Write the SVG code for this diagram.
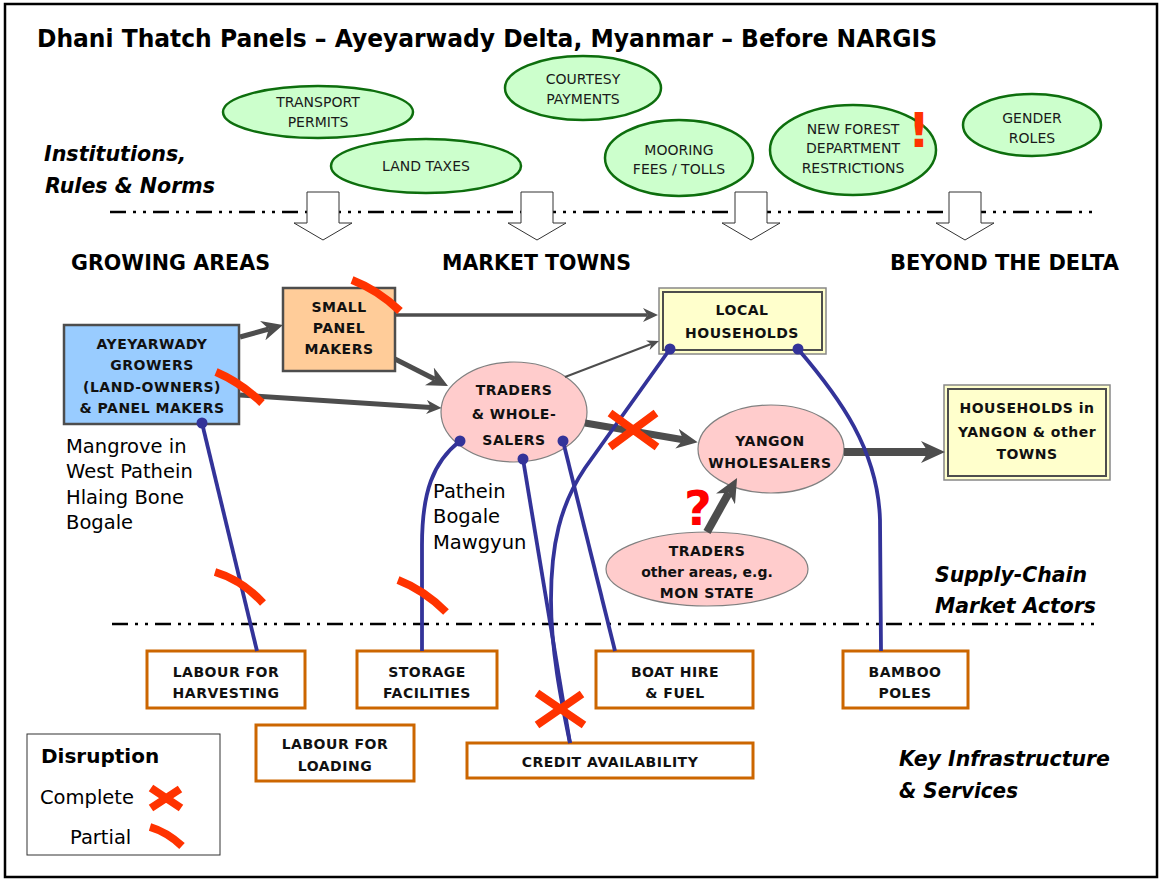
<svg xmlns="http://www.w3.org/2000/svg" width="1163" height="879" viewBox="0 0 1163 879">
<defs>
<style>
.title{font-family:"DejaVu Sans",Verdana,sans-serif;font-weight:bold;font-size:24px;fill:#000}
.hdr{font-family:"DejaVu Sans",Verdana,sans-serif;font-weight:bold;font-size:21px;fill:#000}
.lay{font-family:"DejaVu Sans",Verdana,sans-serif;font-weight:bold;font-style:italic;font-size:21px;fill:#000}
.inst ellipse{fill:#ccffcc;stroke:#0d6e0d;stroke-width:2.5}
.inst text{font-family:"DejaVu Sans",Verdana,sans-serif;font-size:14px;fill:#1a1a1a;text-anchor:middle}
.nt{font-family:"DejaVu Sans",Verdana,sans-serif;font-weight:bold;font-size:14px;letter-spacing:0.5px;fill:#111;text-anchor:middle}
.place{font-family:"DejaVu Sans",Verdana,sans-serif;font-size:19.5px;fill:#000}
.infra rect{fill:#fff;stroke:#cc6600;stroke-width:3}
.gray{stroke:#4d4d4d;fill:none}
.blue{stroke:#333399;stroke-width:3.8;fill:none}
.dot{fill:#333399}
.red{stroke:#ff3300;fill:none;stroke-width:8}
.dash{stroke:#000;stroke-width:2.5;stroke-dasharray:16 7 3 7 3 7}
.blk{fill:#fff;stroke:#333;stroke-width:1}
.yel-o{fill:#ffffcc;stroke:#888;stroke-width:1.5}
.yel-i{fill:none;stroke:#4d4d4d;stroke-width:2}
.pink{fill:#ffcccc;stroke:#808080;stroke-width:1.2}
</style>
<marker id="mA" viewBox="0 0 10 10" refX="3" refY="5" markerWidth="12" markerHeight="10" markerUnits="userSpaceOnUse" orient="auto" preserveAspectRatio="none"><path d="M0,0 L10,5 L0,10 L3,5 z" fill="#4d4d4d"/></marker>
<marker id="mB" viewBox="0 0 10 10" refX="3" refY="5" markerWidth="15" markerHeight="14" markerUnits="userSpaceOnUse" orient="auto" preserveAspectRatio="none"><path d="M0,0 L10,5 L0,10 L3,5 z" fill="#4d4d4d"/></marker>
<marker id="mC" viewBox="0 0 10 10" refX="3" refY="5" markerWidth="21" markerHeight="20" markerUnits="userSpaceOnUse" orient="auto" preserveAspectRatio="none"><path d="M0,0 L10,5 L0,10 L3,5 z" fill="#4d4d4d"/></marker>
<marker id="mD" viewBox="0 0 10 10" refX="3" refY="5" markerWidth="24" markerHeight="22" markerUnits="userSpaceOnUse" orient="auto" preserveAspectRatio="none"><path d="M0,0 L10,5 L0,10 L3,5 z" fill="#4d4d4d"/></marker>
</defs>

<rect x="0" y="0" width="1163" height="879" fill="#fff"/>
<rect x="5" y="4" width="1152" height="873" fill="none" stroke="#000" stroke-width="2.5"/>

<text class="title" x="37" y="47" textLength="900" lengthAdjust="spacingAndGlyphs">Dhani Thatch Panels – Ayeyarwady Delta, Myanmar – Before NARGIS</text>

<g id="layer-labels">
<text class="lay" x="44" y="161" textLength="142" lengthAdjust="spacingAndGlyphs">Institutions,</text>
<text class="lay" x="45" y="193" textLength="170" lengthAdjust="spacingAndGlyphs">Rules &amp; Norms</text>
<text class="lay" x="935" y="582" textLength="152" lengthAdjust="spacingAndGlyphs">Supply-Chain</text>
<text class="lay" x="935" y="613" textLength="161" lengthAdjust="spacingAndGlyphs">Market Actors</text>
<text class="lay" x="899" y="766" textLength="211" lengthAdjust="spacingAndGlyphs">Key Infrastructure</text>
<text class="lay" x="899" y="798" textLength="119" lengthAdjust="spacingAndGlyphs">&amp; Services</text>
<text class="hdr" x="71" y="270" textLength="199" lengthAdjust="spacingAndGlyphs">GROWING AREAS</text>
<text class="hdr" x="442" y="270" textLength="189" lengthAdjust="spacingAndGlyphs">MARKET TOWNS</text>
<text class="hdr" x="890" y="270" textLength="229" lengthAdjust="spacingAndGlyphs">BEYOND THE DELTA</text>
</g>

<g id="dividers">
<line class="dash" x1="110" y1="212" x2="1098" y2="212"/>
<line class="dash" x1="112" y1="624" x2="1098" y2="624"/>
</g>

<g id="influence-arrows">
<path class="blk" d="M307,192 L339,192 L339,223 L352,223 L323,240 L294,223 L307,223 Z"/>
<path class="blk" d="M521,192 L553,192 L553,223 L566,223 L537,240 L508,223 L521,223 Z"/>
<path class="blk" d="M735,192 L767,192 L767,223 L780,223 L751,240 L722,223 L735,223 Z"/>
<path class="blk" d="M949,192 L981,192 L981,223 L994,223 L965,240 L936,223 L949,223 Z"/>
</g>

<g id="transport-permits" class="inst"><ellipse cx="318" cy="112" rx="95" ry="26"/><text x="318" y="107">TRANSPORT</text><text x="318" y="127">PERMITS</text></g>
<g id="land-taxes" class="inst"><ellipse cx="426" cy="166" rx="95" ry="27"/><text x="426" y="171">LAND TAXES</text></g>
<g id="courtesy-payments" class="inst"><ellipse cx="583" cy="88" rx="78" ry="32"/><text x="583" y="84">COURTESY</text><text x="583" y="104">PAYMENTS</text></g>
<g id="mooring-fees" class="inst"><ellipse cx="679" cy="158" rx="74" ry="38"/><text x="679" y="155">MOORING</text><text x="679" y="174">FEES / TOLLS</text></g>
<g id="forest-restrictions" class="inst"><ellipse cx="853" cy="150" rx="83" ry="45"/><text x="853" y="134">NEW FOREST</text><text x="853" y="153">DEPARTMENT</text><text x="853" y="173">RESTRICTIONS</text>
<text x="919" y="147" style="font-family:'DejaVu Sans',sans-serif;font-weight:bold;font-size:48px;fill:#ff3300;text-anchor:middle">!</text></g>
<g id="gender-roles" class="inst"><ellipse cx="1032" cy="125" rx="69" ry="31"/><text x="1032" y="123">GENDER</text><text x="1032" y="143">ROLES</text></g>

<g id="growers">
<rect x="64" y="325" width="175" height="99" fill="#99ccff" stroke="#4d4d4d" stroke-width="2.5"/>
<text class="nt" x="152" y="349">AYEYARWADY</text>
<text class="nt" x="152" y="370">GROWERS</text>
<text class="nt" x="152" y="392">(LAND-OWNERS)</text>
<text class="nt" x="152" y="413">&amp; PANEL MAKERS</text>
</g>
<g id="small-panel-makers">
<rect x="283" y="288" width="112" height="83" fill="#ffcc99" stroke="#4d4d4d" stroke-width="2.5"/>
<text class="nt" x="339" y="312">SMALL</text>
<text class="nt" x="339" y="333">PANEL</text>
<text class="nt" x="339" y="354">MAKERS</text>
</g>
<g id="local-households">
<rect class="yel-o" x="659" y="288" width="167" height="66"/>
<rect class="yel-i" x="663" y="292" width="159" height="58"/>
<text class="nt" x="742" y="315">LOCAL</text>
<text class="nt" x="742" y="338">HOUSEHOLDS</text>
</g>
<g id="households-yangon">
<rect class="yel-o" x="944" y="385" width="166" height="95"/>
<rect class="yel-i" x="948" y="389" width="158" height="87"/>
<text class="nt" x="1027" y="413">HOUSEHOLDS in</text>
<text class="nt" x="1027" y="437">YANGON &amp; other</text>
<text class="nt" x="1027" y="459">TOWNS</text>
</g>
<g id="traders-wholesalers">
<ellipse class="pink" cx="514" cy="412" rx="73" ry="50"/>
<text class="nt" x="514" y="395">TRADERS</text>
<text class="nt" x="514" y="419">&amp; WHOLE-</text>
<text class="nt" x="514" y="445">SALERS</text>
</g>
<g id="yangon-wholesalers">
<ellipse class="pink" cx="771" cy="449" rx="73" ry="44"/>
<text class="nt" x="770" y="446">YANGON</text>
<text class="nt" x="770" y="468">WHOLESALERS</text>
</g>
<g id="traders-other-areas">
<ellipse class="pink" cx="707" cy="569" rx="101" ry="37"/>
<text class="nt" x="707" y="556">TRADERS</text>
<text class="nt" x="707" y="577" style="letter-spacing:0">other areas, e.g.</text>
<text class="nt" x="707" y="598">MON STATE</text>
</g>

<g id="place-labels">
<text class="place" x="66" y="453">Mangrove in</text>
<text class="place" x="66" y="478">West Pathein</text>
<text class="place" x="66" y="504">Hlaing Bone</text>
<text class="place" x="66" y="529">Bogale</text>
<text class="place" x="433" y="498">Pathein</text>
<text class="place" x="433" y="523">Bogale</text>
<text class="place" x="433" y="549">Mawgyun</text>
</g>

<g id="labour-harvesting" class="infra"><rect x="147" y="651" width="158" height="57"/><text class="nt" x="226" y="677">LABOUR FOR</text><text class="nt" x="226" y="698">HARVESTING</text></g>
<g id="storage-facilities" class="infra"><rect x="357" y="651" width="140" height="57"/><text class="nt" x="427" y="677">STORAGE</text><text class="nt" x="427" y="698">FACILITIES</text></g>
<g id="boat-hire" class="infra"><rect x="596" y="651" width="157" height="57"/><text class="nt" x="675" y="677">BOAT HIRE</text><text class="nt" x="675" y="698">&amp; FUEL</text></g>
<g id="bamboo-poles" class="infra"><rect x="843" y="651" width="125" height="57"/><text class="nt" x="905" y="677">BAMBOO</text><text class="nt" x="905" y="698">POLES</text></g>
<g id="labour-loading" class="infra"><rect x="256" y="725" width="158" height="56"/><text class="nt" x="335" y="749">LABOUR FOR</text><text class="nt" x="335" y="771">LOADING</text></g>
<g id="credit-availability" class="infra"><rect x="467" y="743" width="286" height="35"/><text class="nt" x="610" y="767">CREDIT AVAILABILITY</text></g>

<g id="connectors">
<line class="gray" stroke-width="5" x1="240" y1="337" x2="268.8" y2="329" marker-end="url(#mC)"/>
<line class="gray" stroke-width="3.5" x1="396" y1="315" x2="647.5" y2="315" marker-end="url(#mB)"/>
<line class="gray" stroke-width="5" x1="395" y1="359" x2="434.9" y2="379.3" marker-end="url(#mC)"/>
<line class="gray" stroke-width="5" x1="240" y1="395" x2="431" y2="407.4" marker-end="url(#mB)"/>
<line class="gray" stroke-width="2" x1="565" y1="377" x2="651.2" y2="344" marker-end="url(#mA)"/>
<line class="gray" stroke-width="7" x1="585" y1="423" x2="683.2" y2="439.7" marker-end="url(#mC)"/>
<line class="gray" stroke-width="8" x1="844" y1="452" x2="928.2" y2="452" marker-end="url(#mD)"/>
<line class="gray" stroke-width="8" x1="707" y1="532" x2="728.9" y2="492.7" marker-end="url(#mD)"/>

<line class="blue" x1="202" y1="423" x2="257" y2="651"/>
<path class="blue" d="M460,441 C433,462 422,492 422,545 L422,651"/>
<line class="blue" x1="523" y1="459" x2="570" y2="743"/>
<line class="blue" x1="563" y1="441" x2="615" y2="651"/>
<path class="blue" d="M670,349 L585,468 C560,505 551,545 551,600 C551,650 561,700 570,743"/>
<path class="blue" d="M798,349 C840,398 878,450 880,520 L881,651"/>
<circle class="dot" cx="202" cy="423" r="5.5"/>
<circle class="dot" cx="460" cy="441" r="5.5"/>
<circle class="dot" cx="523" cy="459" r="5.5"/>
<circle class="dot" cx="563" cy="441" r="5.5"/>
<circle class="dot" cx="670" cy="349" r="5.5"/>
<circle class="dot" cx="798" cy="349" r="5.5"/>
</g>

<g id="disruption-marks">
<path class="red" d="M352,280 Q378,290 400,311"/>
<path class="red" d="M216,372 Q240,382 262,403"/>
<path class="red" d="M215,572 Q242,580 263,603"/>
<path class="red" d="M398,580 Q424,590 446,612"/>
<path class="red" d="M610,413 L657,447 M610,447 L656,413"/>
<path class="red" d="M537,693 L584,725 M537,725 L582,694"/>
<text x="698" y="525" style="font-family:'DejaVu Sans',sans-serif;font-weight:bold;font-size:48px;fill:#ff0000;text-anchor:middle">?</text>
</g>

<g id="legend">
<rect x="27" y="734" width="193" height="121" fill="#fff" stroke="#333" stroke-width="1"/>
<text x="41" y="763" style="font-family:'DejaVu Sans',sans-serif;font-weight:bold;font-size:20px">Disruption</text>
<text class="place" x="40" y="804">Complete</text>
<text class="place" x="70" y="844">Partial</text>
<path class="red" stroke-width="7" d="M151,788 L181,808 M151,808 L180,789"/>
<path class="red" stroke-width="7" d="M150,827 Q167,832 182,846"/>
</g>
</svg>
